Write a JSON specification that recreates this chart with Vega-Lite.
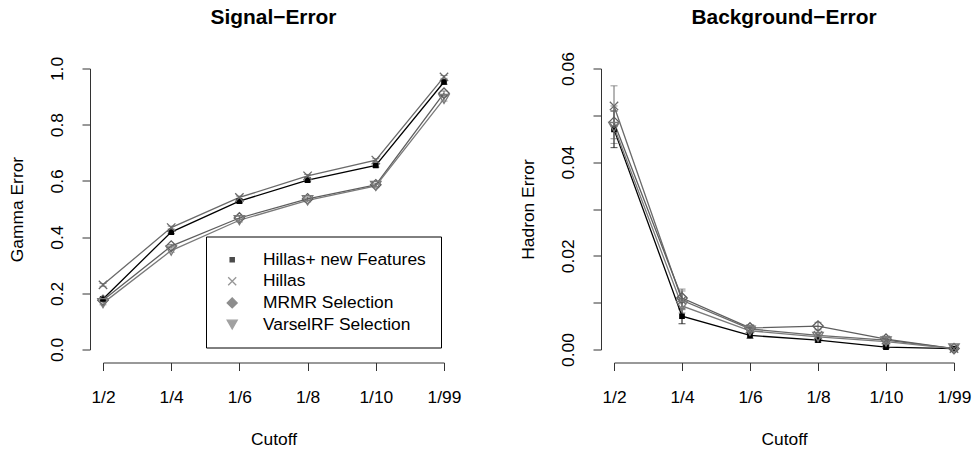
{
  "$schema": "https://vega.github.io/schema/vega-lite/v6.json",
  "padding": {"left": 8, "top": 6.5, "right": 2, "bottom": 2},
  "background": "white",
  "config": {
    "font": "Liberation Sans",
    "view": {"stroke": null},
    "axis": {"grid": false, "domainColor": "#333333", "tickColor": "#333333", "labelColor": "black", "titleColor": "black", "labelFontSize": 17.4, "titleFontSize": 17.4, "titleFontWeight": "normal", "tickSize": 8, "labelFont": "Liberation Sans", "titleFont": "Liberation Sans"},
    "title": {"fontSize": 20.9, "fontWeight": "bold", "color": "black", "font": "Liberation Sans"}
  },
  "spacing": 170,
  "bounds": "flush",
  "resolve": {
    "scale": {"color": "independent", "shape": "independent"},
    "legend": {"color": "independent", "shape": "independent"}
  },
  "datasets": {
    "signal": [
      {"series": "Hillas+ new Features", "cutoff": "1/2", "value": 0.180, "lo": 0.174, "hi": 0.186},
      {"series": "Hillas+ new Features", "cutoff": "1/4", "value": 0.418, "lo": 0.412, "hi": 0.424},
      {"series": "Hillas+ new Features", "cutoff": "1/6", "value": 0.528, "lo": 0.522, "hi": 0.534},
      {"series": "Hillas+ new Features", "cutoff": "1/8", "value": 0.603, "lo": 0.597, "hi": 0.609},
      {"series": "Hillas+ new Features", "cutoff": "1/10", "value": 0.655, "lo": 0.649, "hi": 0.661},
      {"series": "Hillas+ new Features", "cutoff": "1/99", "value": 0.952, "lo": 0.944, "hi": 0.960},
      {"series": "Hillas", "cutoff": "1/2", "value": 0.230, "lo": 0.225, "hi": 0.235},
      {"series": "Hillas", "cutoff": "1/4", "value": 0.434, "lo": 0.429, "hi": 0.439},
      {"series": "Hillas", "cutoff": "1/6", "value": 0.541, "lo": 0.536, "hi": 0.546},
      {"series": "Hillas", "cutoff": "1/8", "value": 0.618, "lo": 0.613, "hi": 0.623},
      {"series": "Hillas", "cutoff": "1/10", "value": 0.674, "lo": 0.669, "hi": 0.679},
      {"series": "Hillas", "cutoff": "1/99", "value": 0.970, "lo": 0.965, "hi": 0.975},
      {"series": "MRMR Selection", "cutoff": "1/2", "value": 0.175, "lo": 0.169, "hi": 0.181},
      {"series": "MRMR Selection", "cutoff": "1/4", "value": 0.368, "lo": 0.362, "hi": 0.374},
      {"series": "MRMR Selection", "cutoff": "1/6", "value": 0.468, "lo": 0.462, "hi": 0.474},
      {"series": "MRMR Selection", "cutoff": "1/8", "value": 0.536, "lo": 0.530, "hi": 0.542},
      {"series": "MRMR Selection", "cutoff": "1/10", "value": 0.586, "lo": 0.580, "hi": 0.592},
      {"series": "MRMR Selection", "cutoff": "1/99", "value": 0.912, "lo": 0.904, "hi": 0.920},
      {"series": "VarselRF Selection", "cutoff": "1/2", "value": 0.165, "lo": 0.159, "hi": 0.171},
      {"series": "VarselRF Selection", "cutoff": "1/4", "value": 0.352, "lo": 0.346, "hi": 0.358},
      {"series": "VarselRF Selection", "cutoff": "1/6", "value": 0.460, "lo": 0.454, "hi": 0.466},
      {"series": "VarselRF Selection", "cutoff": "1/8", "value": 0.531, "lo": 0.525, "hi": 0.537},
      {"series": "VarselRF Selection", "cutoff": "1/10", "value": 0.582, "lo": 0.576, "hi": 0.588},
      {"series": "VarselRF Selection", "cutoff": "1/99", "value": 0.892, "lo": 0.884, "hi": 0.900}
    ],
    "background": [
      {"series": "Hillas+ new Features", "cutoff": "1/2", "value": 0.0470, "lo": 0.0431, "hi": 0.0509},
      {"series": "Hillas+ new Features", "cutoff": "1/4", "value": 0.0071, "lo": 0.0055, "hi": 0.0087},
      {"series": "Hillas+ new Features", "cutoff": "1/6", "value": 0.0030, "lo": 0.0024, "hi": 0.0036},
      {"series": "Hillas+ new Features", "cutoff": "1/8", "value": 0.0020, "lo": 0.0016, "hi": 0.0024},
      {"series": "Hillas+ new Features", "cutoff": "1/10", "value": 0.0005, "lo": 0.0002, "hi": 0.0008},
      {"series": "Hillas+ new Features", "cutoff": "1/99", "value": 0.0002, "lo": 0.0001, "hi": 0.0003},
      {"series": "Hillas", "cutoff": "1/2", "value": 0.0520, "lo": 0.0477, "hi": 0.0563},
      {"series": "Hillas", "cutoff": "1/4", "value": 0.0105, "lo": 0.0085, "hi": 0.0125},
      {"series": "Hillas", "cutoff": "1/6", "value": 0.0044, "lo": 0.0038, "hi": 0.0050},
      {"series": "Hillas", "cutoff": "1/8", "value": 0.0030, "lo": 0.0025, "hi": 0.0035},
      {"series": "Hillas", "cutoff": "1/10", "value": 0.0020, "lo": 0.0014, "hi": 0.0026},
      {"series": "Hillas", "cutoff": "1/99", "value": 0.0002, "lo": 0.0001, "hi": 0.0003},
      {"series": "MRMR Selection", "cutoff": "1/2", "value": 0.0485, "lo": 0.0450, "hi": 0.0520},
      {"series": "MRMR Selection", "cutoff": "1/4", "value": 0.0110, "lo": 0.0091, "hi": 0.0129},
      {"series": "MRMR Selection", "cutoff": "1/6", "value": 0.0046, "lo": 0.0040, "hi": 0.0052},
      {"series": "MRMR Selection", "cutoff": "1/8", "value": 0.0050, "lo": 0.0042, "hi": 0.0058},
      {"series": "MRMR Selection", "cutoff": "1/10", "value": 0.0022, "lo": 0.0016, "hi": 0.0028},
      {"series": "MRMR Selection", "cutoff": "1/99", "value": 0.0002, "lo": 0.0001, "hi": 0.0003},
      {"series": "VarselRF Selection", "cutoff": "1/2", "value": 0.0475, "lo": 0.0440, "hi": 0.0510},
      {"series": "VarselRF Selection", "cutoff": "1/4", "value": 0.0093, "lo": 0.0078, "hi": 0.0108},
      {"series": "VarselRF Selection", "cutoff": "1/6", "value": 0.0040, "lo": 0.0035, "hi": 0.0045},
      {"series": "VarselRF Selection", "cutoff": "1/8", "value": 0.0027, "lo": 0.0022, "hi": 0.0032},
      {"series": "VarselRF Selection", "cutoff": "1/10", "value": 0.0017, "lo": 0.0012, "hi": 0.0022},
      {"series": "VarselRF Selection", "cutoff": "1/99", "value": 0.0002, "lo": 0.0001, "hi": 0.0003}
    ]
  },
  "hconcat": [
    {
      "width": 341,
      "height": 281,
      "title": {"text": "Signal−Error", "frame": "group", "anchor": "middle", "offset": 29},
      "data": {"name": "signal"},
      "encoding": {
        "x": {"field": "cutoff", "type": "ordinal", "sort": null, "scale": {"type": "point", "padding": 0, "domain": ["1/2", "1/4", "1/6", "1/8", "1/10", "1/99"]}, "axis": {"title": "Cutoff", "labelAngle": 0, "offset": 13, "labelPadding": 18, "titlePadding": 25}},
        "color": {
          "field": "series", "type": "nominal",
          "scale": {"domain": ["Hillas+ new Features", "Hillas", "MRMR Selection", "VarselRF Selection"], "range": ["#000000", "#6a6a6a", "#5e5e5e", "#7a7a7a"]},
          "legend": {
            "orient": "none", "legendX": 103, "legendY": 168, "title": null,
            "strokeColor": "black", "padding": 14.5, "cornerRadius": 0, "fillColor": "white",
            "labelFontSize": 17.4, "labelColor": "black", "labelFont": "Liberation Sans", "labelLimit": 400,
            "symbolSize": 100, "symbolOffset": 3, "labelOffset": 22, "rowPadding": 2.6, "symbolStrokeWidth": 1.3
          }
        }
      },
      "layer": [
        {
          "mark": {"type": "errorbar", "ticks": {"size": 7}, "thickness": 1},
          "encoding": {
            "y": {"field": "lo", "type": "quantitative", "scale": {"domain": [0, 1], "nice": false, "zero": false}, "axis": {"title": "Gamma Error", "values": [0, 0.2, 0.4, 0.6, 0.8, 1], "format": ".1f", "labelAngle": -90, "offset": 13, "labelPadding": 16, "titlePadding": 22}},
            "y2": {"field": "hi"}
          }
        },
        {
          "mark": {"type": "line", "strokeWidth": 1.3},
          "encoding": {
            "y": {"field": "value", "type": "quantitative", "scale": {"domain": [0, 1], "nice": false, "zero": false}, "axis": {"title": "Gamma Error", "values": [0, 0.2, 0.4, 0.6, 0.8, 1], "format": ".1f", "labelAngle": -90, "offset": 13, "labelPadding": 16, "titlePadding": 22}}
          }
        },
        {
          "mark": {"type": "point", "filled": false, "size": 110, "strokeWidth": 1.3, "opacity": 1},
          "encoding": {
            "y": {"field": "value", "type": "quantitative", "scale": {"domain": [0, 1], "nice": false, "zero": false}, "axis": {"title": "Gamma Error", "values": [0, 0.2, 0.4, 0.6, 0.8, 1], "format": ".1f", "labelAngle": -90, "offset": 13, "labelPadding": 16, "titlePadding": 22}},
            "shape": {
              "field": "series", "type": "nominal",
              "scale": {"domain": ["Hillas+ new Features", "Hillas", "MRMR Selection", "VarselRF Selection"], "range": ["M-0.42,-0.42H0.42V0.42H-0.42ZM-0.26,-0.26H0.26V0.26H-0.26ZM-0.1,-0.1H0.1V0.1H-0.1Z", "M-0.8,-0.8L0.8,0.8M0.8,-0.8L-0.8,0.8", "diamond", "triangle-down"]},
              "legend": {
                "orient": "none", "legendX": 103, "legendY": 168, "title": null,
                "strokeColor": "black", "padding": 14.5, "cornerRadius": 0, "fillColor": "white",
                "labelFontSize": 17.4, "labelColor": "black", "labelFont": "Liberation Sans", "labelLimit": 400,
                "symbolSize": 100, "symbolOffset": 3, "labelOffset": 22, "rowPadding": 2.6, "symbolStrokeWidth": 1.3
              }
            }
          }
        }
      ]
    },
    {
      "width": 340,
      "height": 281,
      "title": {"text": "Background−Error", "frame": "group", "anchor": "middle", "offset": 24},
      "data": {"name": "background"},
      "encoding": {
        "x": {"field": "cutoff", "type": "ordinal", "sort": null, "scale": {"type": "point", "padding": 0, "domain": ["1/2", "1/4", "1/6", "1/8", "1/10", "1/99"]}, "axis": {"title": "Cutoff", "labelAngle": 0, "offset": 13, "labelPadding": 18, "titlePadding": 25}},
        "color": {"field": "series", "type": "nominal", "scale": {"domain": ["Hillas+ new Features", "Hillas", "MRMR Selection", "VarselRF Selection"], "range": ["#000000", "#6a6a6a", "#5e5e5e", "#7a7a7a"]}, "legend": null}
      },
      "layer": [
        {
          "mark": {"type": "errorbar", "ticks": {"size": 7}, "thickness": 1},
          "encoding": {
            "y": {"field": "lo", "type": "quantitative", "scale": {"domain": [0, 0.06], "nice": false, "zero": false}, "axis": {"title": "Hadron Error", "values": [0, 0.01, 0.02, 0.03, 0.04, 0.05, 0.06], "labelExpr": "round(datum.value*100) % 2 == 0 ? format(datum.value, '.2f') : ''", "labelAngle": -90, "offset": 13, "labelPadding": 16, "titlePadding": 22}},
            "y2": {"field": "hi"}
          }
        },
        {
          "mark": {"type": "line", "strokeWidth": 1.3},
          "encoding": {
            "y": {"field": "value", "type": "quantitative", "scale": {"domain": [0, 0.06], "nice": false, "zero": false}, "axis": {"title": "Hadron Error", "values": [0, 0.01, 0.02, 0.03, 0.04, 0.05, 0.06], "labelExpr": "round(datum.value*100) % 2 == 0 ? format(datum.value, '.2f') : ''", "labelAngle": -90, "offset": 13, "labelPadding": 16, "titlePadding": 22}}
          }
        },
        {
          "mark": {"type": "point", "filled": false, "size": 110, "strokeWidth": 1.3, "opacity": 1},
          "encoding": {
            "y": {"field": "value", "type": "quantitative", "scale": {"domain": [0, 0.06], "nice": false, "zero": false}, "axis": {"title": "Hadron Error", "values": [0, 0.01, 0.02, 0.03, 0.04, 0.05, 0.06], "labelExpr": "round(datum.value*100) % 2 == 0 ? format(datum.value, '.2f') : ''", "labelAngle": -90, "offset": 13, "labelPadding": 16, "titlePadding": 22}},
            "shape": {"field": "series", "type": "nominal", "scale": {"domain": ["Hillas+ new Features", "Hillas", "MRMR Selection", "VarselRF Selection"], "range": ["M-0.42,-0.42H0.42V0.42H-0.42ZM-0.26,-0.26H0.26V0.26H-0.26ZM-0.1,-0.1H0.1V0.1H-0.1Z", "M-0.8,-0.8L0.8,0.8M0.8,-0.8L-0.8,0.8", "diamond", "triangle-down"]}, "legend": null}
          }
        }
      ]
    }
  ]
}
